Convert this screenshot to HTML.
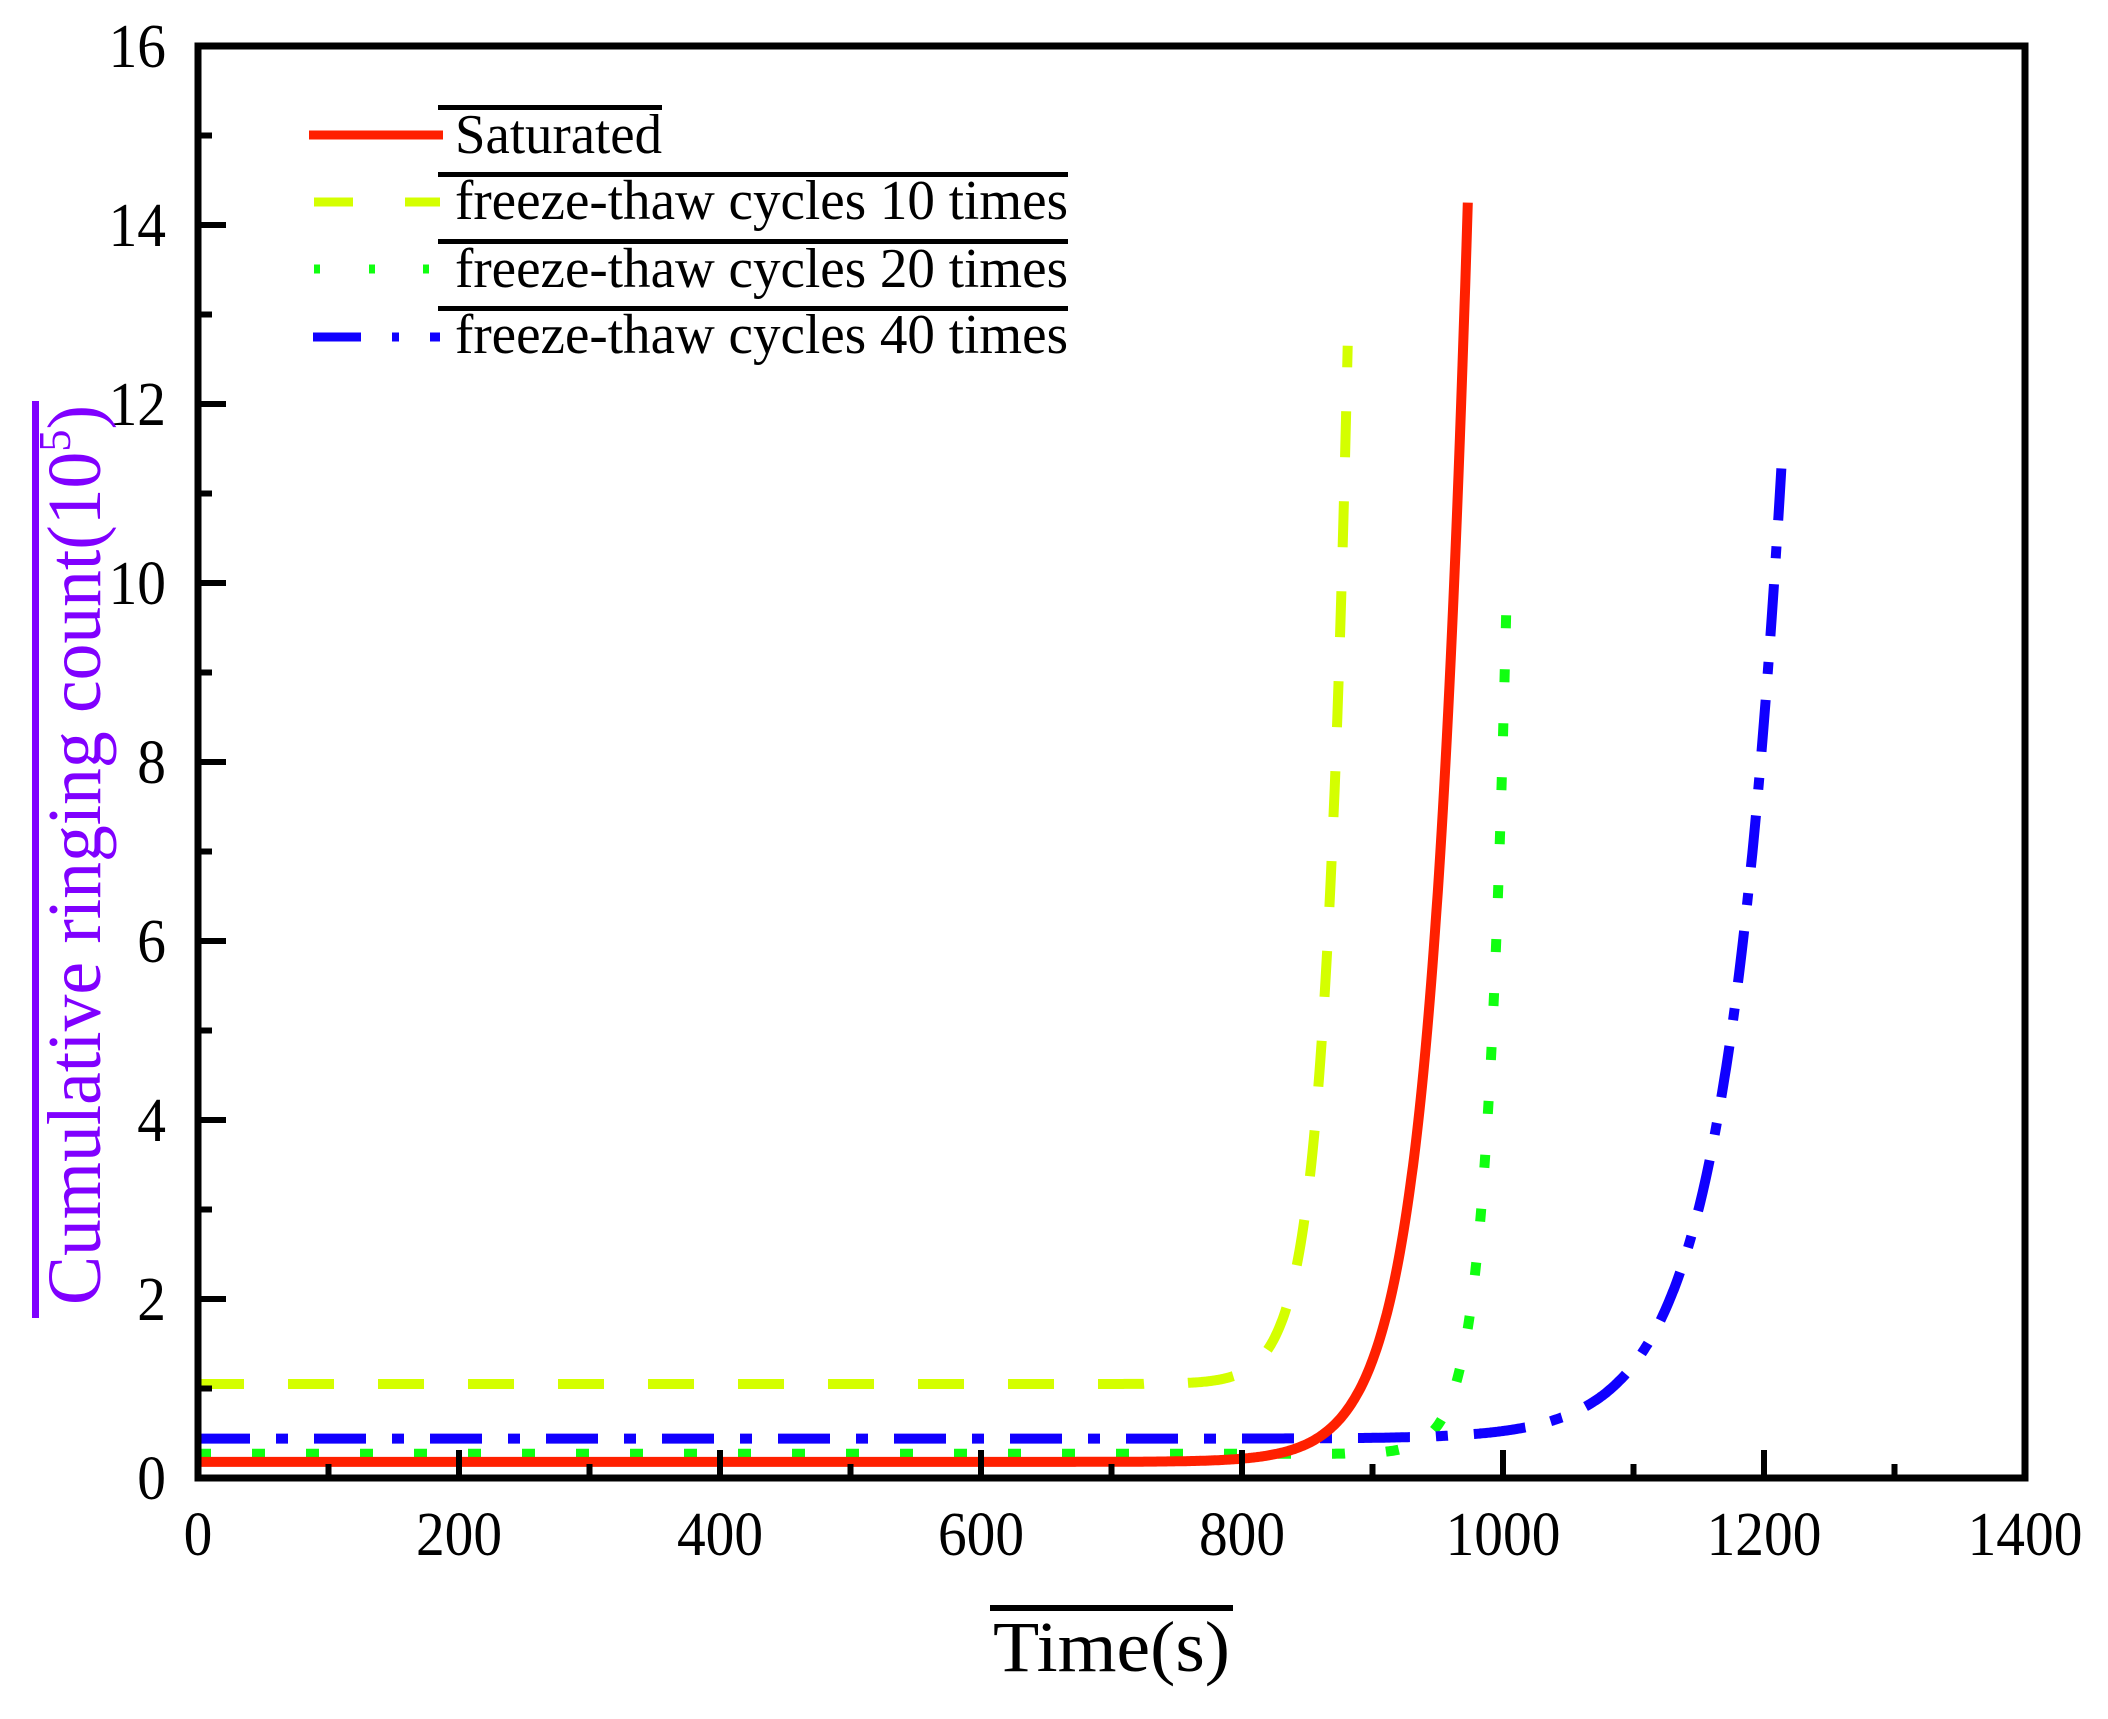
<!DOCTYPE html>
<html><head><meta charset="utf-8"><style>html,body{margin:0;padding:0;background:#fff}svg{display:block}</style></head>
<body>
<svg id="s" width="2108" height="1719" viewBox="0 0 2108 1719" xmlns="http://www.w3.org/2000/svg" font-family="Liberation Serif, serif">
<rect width="2108" height="1719" fill="#fff"/>
<g id="curves" fill="none"></g>
<rect x="198" y="46" width="1827" height="1432" fill="none" stroke="#000" stroke-width="7"/>
<g id="ticks" stroke="#000" stroke-width="6"></g>
<g id="labels" font-size="62" fill="#000"></g>
<!-- legend -->
<line x1="309" y1="135" x2="443" y2="135" stroke="#ff2000" stroke-width="9"/>
<line x1="314" y1="202" x2="353" y2="202" stroke="#d4ff00" stroke-width="9"/>
<line x1="405" y1="202" x2="440" y2="202" stroke="#d4ff00" stroke-width="9"/>
<line x1="314" y1="269" x2="320" y2="269" stroke="#10ff10" stroke-width="9"/>
<line x1="369" y1="269" x2="375" y2="269" stroke="#10ff10" stroke-width="9"/>
<line x1="423" y1="269" x2="429" y2="269" stroke="#10ff10" stroke-width="9"/>
<line x1="313" y1="337" x2="361" y2="337" stroke="#1000ff" stroke-width="9"/>
<line x1="392" y1="337" x2="399" y2="337" stroke="#1000ff" stroke-width="9"/>
<line x1="430" y1="337" x2="440" y2="337" stroke="#1000ff" stroke-width="9"/>
<g fill="#000">
<rect x="438" y="105" width="224" height="5"/>
<rect x="438" y="172" width="630" height="5"/>
<rect x="438" y="239" width="630" height="5"/>
<rect x="438" y="306" width="630" height="5"/>
</g>
<g font-size="56" fill="#000">
<text x="455" y="153" textLength="207" lengthAdjust="spacingAndGlyphs">Saturated</text>
<text x="455" y="219" textLength="613" lengthAdjust="spacingAndGlyphs">freeze-thaw cycles 10 times</text>
<text x="455" y="287" textLength="613" lengthAdjust="spacingAndGlyphs">freeze-thaw cycles 20 times</text>
<text x="455" y="353" textLength="613" lengthAdjust="spacingAndGlyphs">freeze-thaw cycles 40 times</text>
</g>
<!-- axis titles -->
<rect x="990" y="1605" width="243" height="6" fill="#000"/>
<text x="993" y="1671" font-size="72" textLength="237" lengthAdjust="spacingAndGlyphs">Time(s)</text>
<rect x="32" y="401" width="7" height="917" fill="#8000ff"/>
<text transform="translate(100,1305) rotate(-90)" font-size="76" fill="#8000ff" textLength="900" lengthAdjust="spacingAndGlyphs">Cumulative ringing count(10<tspan font-size="46" dy="-30">5</tspan><tspan dy="30">)</tspan></text>
</svg>
<script>
(function(){
var NS="http://www.w3.org/2000/svg";
function X(t){return 198+t*1.305;}
function Y(v){return 1478-v*89.5;}
function el(n,a,p){var e=document.createElementNS(NS,n);for(var k in a)e.setAttribute(k,a[k]);p.appendChild(e);return e;}
var ticks=document.getElementById('ticks'),labels=document.getElementById('labels'),cur=document.getElementById('curves');
for(var t=0;t<=1400;t+=100){var maj=t%200==0;if(t>0&&t<1400)el('line',{x1:X(t),y1:1478,x2:X(t),y2:1478-(maj?28:14)},ticks);
 if(maj){var s=String(t);var tx=el('text',{x:X(t),y:1555,'text-anchor':'middle',textLength:s.length*28.7,lengthAdjust:'spacingAndGlyphs'},labels);tx.textContent=s;}}
for(var v=0;v<=16;v+=1){var maj=v%2==0;if(v>0&&v<16)el('line',{x1:198,y1:Y(v),x2:198+(maj?28:14),y2:Y(v)},ticks);
 if(maj){var s=String(v);var tx=el('text',{x:166,y:Y(v)+21,'text-anchor':'end',textLength:s.length*28.7,lengthAdjust:'spacingAndGlyphs'},labels);tx.textContent=s;}}
function path(base,a,tend,tau,col,w,dash){var d='';for(var t=0;t<=tend;t+=1){var v=base+a*Math.exp((t-tend)/tau);d+=(t?'L':'M')+X(t).toFixed(1)+' '+Y(v).toFixed(1);}
 var o={d:d,stroke:col,'stroke-width':w};if(dash)o['stroke-dasharray']=dash;el('path',o,cur);}
path(1.05,11.6,881,18,'#d4ff00',10,'46 44');
path(0.27,9.73,1003,15.5,'#10ff10',10,'13 41');
path(0.44,11.02,1214,44,'#1000ff',10,'52 26 12 26');
path(0.18,14.07,973,29,'#ff2000',10,null);
})();
</script>
</body></html>
